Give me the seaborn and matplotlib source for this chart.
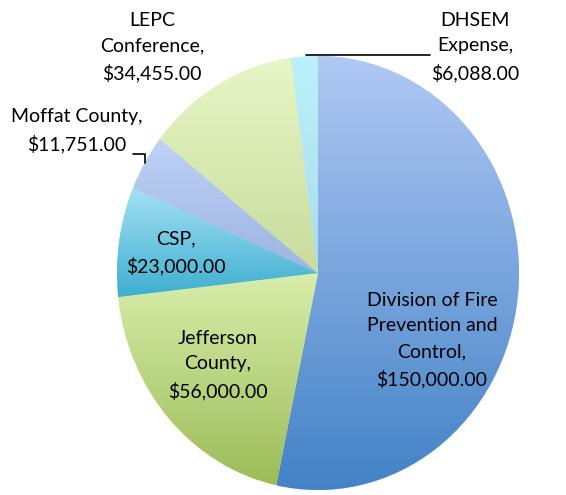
import matplotlib.pyplot as plt
import matplotlib.colors as mcolors
import seaborn as sns
import numpy as np

sns.set_style("white")
plt.rcParams['font.family'] = ['Lato', 'DejaVu Sans']

# data, clockwise from 12 o'clock
labels = ["Division of Fire\nPrevention and\nControl,", "Jefferson\nCounty,", "CSP,",
          "Moffat County,", "LEPC\nConference,", "DHSEM\nExpense,"]
amounts = [150000.00, 56000.00, 23000.00, 11751.00, 34455.00, 6088.00]
top_colors = ["#b0c8f4", "#d8eeaa", "#a4e2f4", "#bed2f6", "#e6f6c6", "#bcf0fa"]
bottom_colors = ["#4282c6", "#9cbc58", "#3eaed0", "#9cb4e0", "#c8dc9c", "#a8dcec"]

# label anchor points (data units of the pie axes)
label_pos = [(0.567, -0.309), (-0.498, -0.424), (-0.706, 0.092),
             (-1.199, 0.654), (-0.826, 1.041), (0.781, 1.041)]

fig = plt.figure(figsize=(5.66, 4.95), dpi=100)
ax = fig.add_axes([117 / 566, 5 / 495, 402 / 566, 434 / 495])

wedges, _ = ax.pie(amounts, startangle=90, counterclock=False, radius=1,
                   colors=top_colors, wedgeprops=dict(linewidth=0))
ax.set_aspect("auto")
ax.axis("off")

# vertical gradient inside each slice
for w, c1, c2 in zip(wedges, top_colors, bottom_colors):
    verts = w.get_path().vertices
    x0, x1 = verts[:, 0].min(), verts[:, 0].max()
    y0, y1 = verts[:, 1].min(), verts[:, 1].max()
    cmap = mcolors.LinearSegmentedColormap.from_list("g", [c2, c1])
    grad = np.linspace(0, 1, 256).reshape(-1, 1)
    im = ax.imshow(grad, cmap=cmap, extent=[x0, x1, y0, y1], origin="lower",
                   aspect="auto", zorder=2)
    im.set_clip_path(w)

ax.set_xlim(-1, 1)
ax.set_ylim(-1, 1)

for lab, amt, (x, y) in zip(labels, amounts, label_pos):
    ax.text(x, y, f"{lab}\n${amt:,.2f}", ha="center", va="center",
            fontsize=14, linespacing=1.62, color="black", zorder=5)

# leader lines
ax.plot([-0.06, 0.557], [1.005, 1.005], color="black", lw=1.2, clip_on=False, zorder=5)
ax.plot([-0.920, -0.861, -0.861], [0.548, 0.548, 0.507], color="black", lw=1.2,
        clip_on=False, zorder=5)

fig.savefig("out.png", dpi=100)
